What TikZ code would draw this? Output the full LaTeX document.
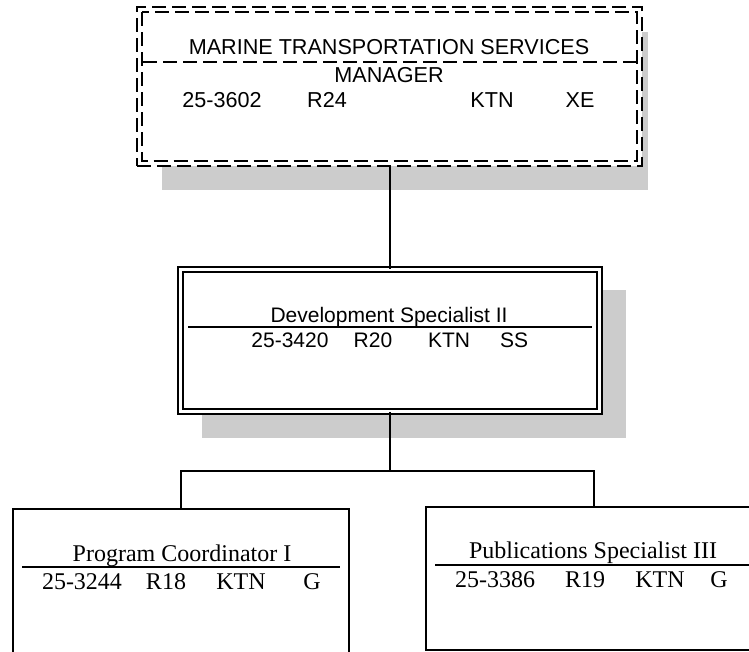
\documentclass[tikz,border=0pt]{standalone}
\usepackage{fontspec}
\setmainfont{Liberation Serif}
\setsansfont{Liberation Sans}
\definecolor{shadowgray}{RGB}{204,204,204}

\begin{document}
\begin{tikzpicture}[x=1pt,y=-1pt,
  box/.style={draw, fill=white, line width=1.5pt, inner sep=0pt},
  dashbox/.style={draw, line width=1.6pt, dash pattern=on 14pt off 6pt, inner sep=0pt},
  twobox/.style={draw, fill=white, line width=1.5pt, double, double distance=3.5pt, inner sep=0pt},
  rule/.style={line width=1.5pt},
  link/.style={line width=2pt},
  sans/.style={font=\sffamily\fontsize{21}{25}\selectfont, anchor=base, inner sep=0pt},
  bigsans/.style={font=\sffamily\fontsize{21.6}{25}\selectfont, anchor=base, inner sep=0pt},
  serif/.style={font=\rmfamily\fontsize{24}{28}\selectfont, anchor=base, inner sep=0pt}]
\useasboundingbox (0,0) rectangle (749,651);

% shadows
\fill[shadowgray] (162,32) rectangle (648,190);
\fill[shadowgray] (202,290) rectangle (626,438);

% boxes
\node[dashbox, fill=white, minimum width=505pt, minimum height=159pt] (mgr) at (389.5,86.5) {};
\draw[dashbox] ([shift={(6,6)}]mgr.north west) rectangle ([shift={(-6,-6)}]mgr.south east);
\draw[dashbox] (143,62) -- (636,62);
\node[twobox, minimum width=419pt, minimum height=142pt] (dev) at (390,340.5) {};
\draw[rule] (188,327) -- (592,327);
\node[box, minimum width=336pt, minimum height=160pt] (prog) at (181,589) {};
\draw[rule] (22,567) -- (340,567);
\node[box, minimum width=336pt, minimum height=143pt] (pub) at (594,578.5) {};
\draw[rule] (435,565) -- (760,565);

% texts
\node[bigsans] (mgrt) at (389,54) {MARINE TRANSPORTATION SERVICES};
\node[bigsans] (mgrm) at (389,82) {MANAGER};
\node[bigsans] (mgra) at (222,107) {25-3602};
\node[bigsans] (mgrb) at (327,107) {R24};
\node[bigsans] (mgrc) at (492,107) {KTN};
\node[bigsans] (mgrd) at (580,107) {XE};

\node[sans] (devt) at (389,322) {Development Specialist II};
\node[sans] (deva) at (290,347) {25-3420};
\node[sans] (devb) at (373,347) {R20};
\node[sans] (devc) at (449,347) {KTN};
\node[sans] (devd) at (514,347) {SS};

\node[serif] (progt) at (182,561) {Program Coordinator I};
\node[serif] (proga) at (82,589) {25-3244};
\node[serif] (progb) at (166,589) {R18};
\node[serif] (progc) at (241,589) {KTN};
\node[serif] (progd) at (312,589) {G};

\node[serif] (pubt) at (593,558) {Publications Specialist III};
\node[serif] (puba) at (495,587) {25-3386};
\node[serif] (pubb) at (585,587) {R19};
\node[serif] (pubc) at (660,587) {KTN};
\node[serif] (pubd) at (719,587) {G};

% connectors
\coordinate (fork) at (390,471);
\draw[link] (mgr.south) -- (mgr.south |- dev.north);
\draw[link] (dev.south) -- (fork);
\draw[link] (prog.north) |- (fork) -| (pub.north);
\end{tikzpicture}
\end{document}
